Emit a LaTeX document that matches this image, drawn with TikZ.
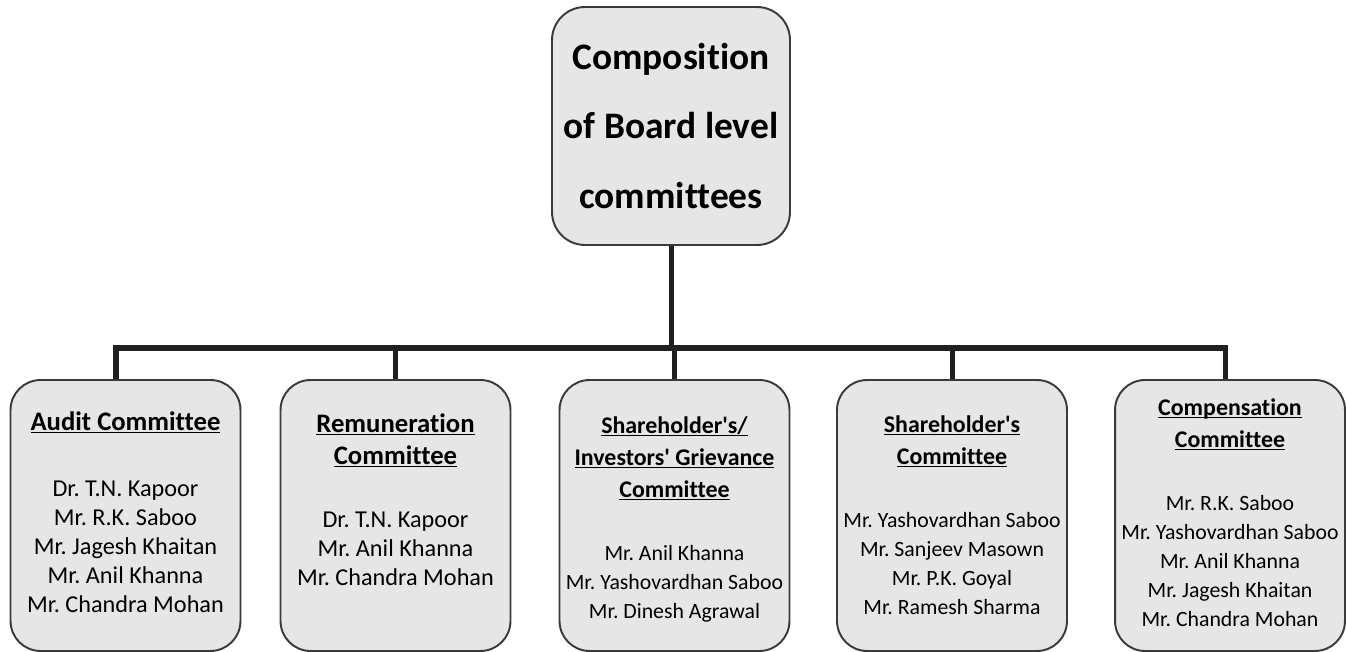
\documentclass[tikz,border=0pt]{standalone}
\usepackage{fontspec}
\setmainfont{Carlito}[Ligatures={TeXOff,CommonOff}]
\usepackage{tikz}
\usetikzlibrary{positioning}
\definecolor{BoxFill}{HTML}{E6E6E6}
\definecolor{BoxEdge}{HTML}{3A3A3A}
\definecolor{LinkBlack}{HTML}{231F20}
% underline at a fixed depth, through descenders
\newcommand{\hdul}[1]{\setbox0=\hbox{#1}\rlap{\rule[-1.7pt]{\wd0}{0.6pt}}\box0}
\frenchspacing

\begin{document}
\begin{tikzpicture}[
    x=0.02cm, y=-0.02cm,
    cbox/.style={draw=BoxEdge, fill=BoxFill, line width=1.1pt, rounded corners=0.6cm, minimum width=4.6cm, minimum height=5.42cm, inner sep=0pt},
    topbox/.style={cbox, minimum width=4.76cm, minimum height=4.76cm, rounded corners=0.66cm, align=center, font=\fontsize{21.3}{39.3}\selectfont\bfseries},
    hdA/.style={anchor=north, align=center, inner sep=0pt, font=\fontsize{15.2}{18.2}\selectfont\bfseries},
    hdB/.style={hdA, font=\fontsize{13.6}{18.2}\selectfont\bfseries},
    memA/.style={anchor=north, align=center, inner sep=0pt, font=\fontsize{13.8}{16.5}\selectfont},
    memB/.style={memA, font=\fontsize{12.4}{16.5}\selectfont},
    conn/.style={draw=LinkBlack, line width=2.85pt}
  ]
  \useasboundingbox (0,0) rectangle (1346,652);

  \node[topbox] (board) at (671,126) {Composition\\of Board level\\committees};

  \node[cbox] (audit) at (125.5,515.5) {};
  \node[cbox] (remun) at (395.5,515.5) {};
  \node[cbox] (grievance) at (674.5,515.5) {};
  \node[cbox] (holders) at (952,515.5) {};
  \node[cbox] (compens) at (1230,515.5) {};

  \node[hdA] (audit-h) at (125.5,407.6) {\strut\hdul{Audit Committee}};
  \node[memA] (audit-m) at (125.5,475.7) {\strut Dr. T.N. Kapoor\\Mr. R.K. Saboo\\Mr. Jagesh Khaitan\\Mr. Anil Khanna\\Mr. Chandra Mohan};

  \node[hdA] (remun-h) at (395.5,409.6) {\strut\hdul{Remuneration}\\\hdul{Committee}};
  \node[memA] (remun-m) at (395.5,506.7) {\strut Dr. T.N. Kapoor\\Mr. Anil Khanna\\Mr. Chandra Mohan};

  \node[hdB] (grievance-h) at (674.5,410.6) {\strut\hdul{Shareholder's/}\\\hdul{Investors' Grievance}\\\hdul{Committee}};
  \node[memB] (grievance-m) at (674.5,539.7) {\strut Mr. Anil Khanna\\Mr. Yashovardhan Saboo\\Mr. Dinesh Agrawal};

  \node[hdB] (holders-h) at (952,409.6) {\strut\hdul{Shareholder's}\\\hdul{Committee}};
  \node[memB] (holders-m) at (952,506.7) {\strut Mr. Yashovardhan Saboo\\Mr. Sanjeev Masown\\Mr. P.K. Goyal\\Mr. Ramesh Sharma};

  \node[hdB] (compens-h) at (1230,392.6) {\strut\hdul{Compensation}\\\hdul{Committee}};
  \node[memB] (compens-m) at (1230,489.7) {\strut Mr. R.K. Saboo\\Mr. Yashovardhan Saboo\\Mr. Anil Khanna\\Mr. Jagesh Khaitan\\Mr. Chandra Mohan};

  % tree lines
  \coordinate (bus) at (671,348);
  \draw[conn] (board.south) -- (bus);
  \draw[conn] ([xshift=-0.19cm]audit.north) |- (bus);
  \draw[conn] (remun.north) |- (bus);
  \draw[conn] (grievance.north) -- (grievance.north |- bus);
  \draw[conn] (holders.north) |- (bus);
  \draw[conn] ([xshift=-0.1cm]compens.north) |- (bus);
\end{tikzpicture}
\end{document}
